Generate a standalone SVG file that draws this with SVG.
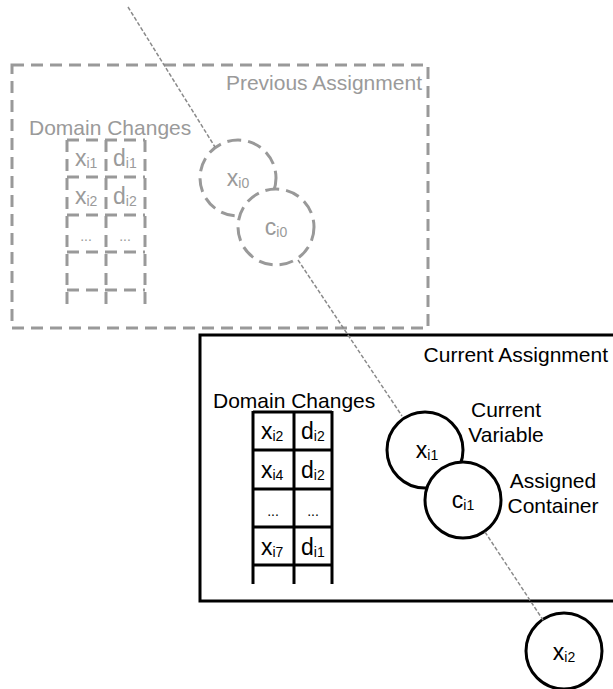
<svg xmlns="http://www.w3.org/2000/svg" width="613" height="689" viewBox="0 0 613 689">
<style>
text{font-family:"Liberation Sans",Arial,sans-serif;font-size:21px}
.v{font-size:23px}
.g{fill:#9a9a9a}
.k{fill:#000}
.sub{font-size:14px}
.dot{font-size:14px}
.gd{fill:none;stroke:#999;stroke-width:3;stroke-dasharray:12 7}
.gc{fill:#fff;stroke:#999;stroke-width:3;stroke-dasharray:14 7}
.bk{fill:none;stroke:#000;stroke-width:3}
.bc{fill:#fff;stroke:#000;stroke-width:3}
.conn{stroke:#8a8a8a;stroke-width:1.5;stroke-dasharray:4 2;fill:none}
</style>
<rect width="613" height="689" fill="#fff"/>

<g id="previous-assignment">
  <rect class="gd" x="12" y="65" width="416" height="263"/>
  <text class="g" x="422" y="90" text-anchor="end">Previous Assignment</text>
</g>

<g id="previous-domain-changes">
  <text class="g" x="29" y="135">Domain Changes</text>
  <g class="gd">
    <line x1="67" y1="140" x2="145" y2="140"/>
    <line x1="67" y1="177" x2="145" y2="177"/>
    <line x1="67" y1="215" x2="145" y2="215"/>
    <line x1="67" y1="252" x2="145" y2="252"/>
    <line x1="67" y1="290" x2="145" y2="290"/>
    <line x1="67" y1="140" x2="67" y2="310"/>
    <line x1="106" y1="140" x2="106" y2="310"/>
    <line x1="145" y1="140" x2="145" y2="310"/>
  </g>
  <text class="g v" x="75" y="166">x<tspan class="sub" dy="2">i1</tspan></text>
  <text class="g v" x="113" y="166">d<tspan class="sub" dy="2">i1</tspan></text>
  <text class="g v" x="75" y="204">x<tspan class="sub" dy="2">i2</tspan></text>
  <text class="g v" x="113" y="204">d<tspan class="sub" dy="2">i2</tspan></text>
  <text class="g dot" x="86" y="241" text-anchor="middle">...</text>
  <text class="g dot" x="125" y="241" text-anchor="middle">...</text>
</g>

<g id="xi0">
  <circle class="gc" cx="238" cy="178" r="38"/>
  <text class="g v" x="238" y="186" text-anchor="middle">x<tspan class="sub" dy="2">i0</tspan></text>
</g>
<g id="ci0">
  <circle class="gc" cx="276" cy="227" r="38"/>
  <text class="g v" x="276" y="235" text-anchor="middle">c<tspan class="sub" dy="2">i0</tspan></text>
</g>

<g id="current-assignment">
  <rect class="bk" x="200" y="335" width="420" height="266"/>
  <text class="k" x="608" y="362" text-anchor="end">Current Assignment</text>
</g>

<g id="current-domain-changes">
  <text class="k" x="213" y="408">Domain Changes</text>
  <g class="bk">
    <line x1="253" y1="412" x2="332" y2="412"/>
    <line x1="253" y1="450" x2="332" y2="450"/>
    <line x1="253" y1="489" x2="332" y2="489"/>
    <line x1="253" y1="527" x2="332" y2="527"/>
    <line x1="253" y1="565" x2="332" y2="565"/>
    <line x1="253" y1="411" x2="253" y2="584"/>
    <line x1="294" y1="411" x2="294" y2="584"/>
    <line x1="332" y1="411" x2="332" y2="584"/>
  </g>
  <text class="k v" x="261" y="439">x<tspan class="sub" dy="2">i2</tspan></text>
  <text class="k v" x="301" y="439">d<tspan class="sub" dy="2">i2</tspan></text>
  <text class="k v" x="261" y="478">x<tspan class="sub" dy="2">i4</tspan></text>
  <text class="k v" x="301" y="478">d<tspan class="sub" dy="2">i2</tspan></text>
  <text class="k dot" x="273" y="516" text-anchor="middle">...</text>
  <text class="k dot" x="313" y="516" text-anchor="middle">...</text>
  <text class="k v" x="261" y="555">x<tspan class="sub" dy="2">i7</tspan></text>
  <text class="k v" x="301" y="555">d<tspan class="sub" dy="2">i1</tspan></text>
</g>

<g id="xi1">
  <circle class="bc" cx="425" cy="450" r="38"/>
  <text class="k v" x="427" y="458" text-anchor="middle">x<tspan class="sub" dy="2">i1</tspan></text>
</g>
<g id="ci1">
  <circle class="bc" cx="463" cy="500" r="38"/>
  <text class="k v" x="463" y="508" text-anchor="middle">c<tspan class="sub" dy="2">i1</tspan></text>
</g>
<g id="current-variable-label">
  <text class="k" x="506" y="417" text-anchor="middle">Current</text>
  <text class="k" x="506" y="442" text-anchor="middle">Variable</text>
</g>
<g id="assigned-container-label">
  <text class="k" x="553" y="488" text-anchor="middle">Assigned</text>
  <text class="k" x="553" y="513" text-anchor="middle">Container</text>
</g>

<g id="xi2">
  <circle class="bk" cx="564" cy="651" r="38"/>
  <text class="k v" x="564" y="660" text-anchor="middle">x<tspan class="sub" dy="2">i2</tspan></text>
</g>

<g id="connectors">
  <line class="conn" x1="128" y1="7" x2="215" y2="147"/>
  <line class="conn" x1="298" y1="260" x2="402" y2="416"/>
  <line class="conn" x1="485" y1="532" x2="543" y2="620"/>
</g>
</svg>
